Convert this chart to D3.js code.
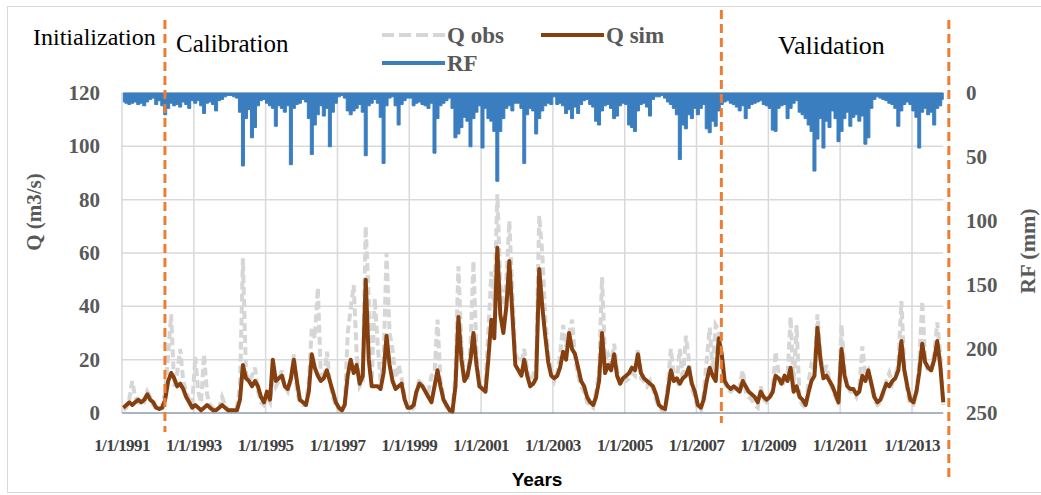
<!DOCTYPE html>
<html>
<head>
<meta charset="utf-8">
<script src="https://cdn.jsdelivr.net/npm/d3@7"></script>
<style>
  body { margin: 0; background: #fff; }
</style>
</head>
<body>
<script>
var w = 1041;
var h = 495;

// monthly values from Jan 1991 to Nov 2013
var startYear = 1991;

var qSim = [
  2,3,4,3,4,5,4,5,7,5,4,2,
  1.5,2,5,12,15,13,10,11,9,6,4,2,
  3,2,1,2,3,2,1,1,2,3,2,1,
  1,1,1,5,18,13,12,10,12,10,6,4,
  8,5,20,12,13,14,10,9,13,20,12,5,
  4,3,8,22,17,14,12,13,16,12,8,4,
  2,1,3,14,20,15,18,11,14,50,20,10,
  10,10,9,15,29,18,12,9,10,11,5,2,
  2,3,8,11,10,8,6,4,10,16,10,5,
  3,1,0.5,10,36,20,12,14,20,30,18,10,
  9,8,20,35,28,62,37,30,40,57,37,18,
  16,14,20,14,10,11,13,54,40,29,19,14,
  13,14,17,23,20,30,24,22,17,12,10,6,
  4,3,6,12,30,15,18,16,22,14,11,13,
  14,15,17,16,22,15,13,12,11,10,7,3,
  2,1.5,8,16,12,13,11,13,14,17,11,8,
  3,2,5,12,17,14,12,28,22,12,10,9,
  10,9,8,12,10,8,7,6,4,8,6,5,
  6,8,14,13,11,14,12,17,8,10,6,5,
  3,8,12,14,32,20,13,14,12,10,7,4,
  24,14,10,9,9,7,8,14,12,16,11,6,
  4,5,8,11,10,12,13,16,27,16,10,5,
  4,8,15,26,19,17,16,20,27,18,4
];

var qObs = [
  1,2,5,12,6,4,3,4,8,6,3,2,
  1,3,8,22,37,10,15,24,12,8,5,3,
  21,8,4,22,7,3,2,1,2,6,3,1,
  1,1,2,10,58,15,12,14,17,8,4,3,
  6,4,15,10,12,16,10,8,12,22,8,4,
  3,3,12,32,28,47,15,12,23,12,6,3,
  1,1,2,30,39,48,22,10,12,70,43,12,
  43,25,12,20,60,30,24,13,18,13,6,2,
  1,2,8,13,10,9,8,14,15,35,12,6,
  2,1,1,15,55,25,14,12,25,57,22,10,
  10,12,30,53,40,82,48,40,50,72,45,22,
  20,19,24,16,12,14,18,74,60,36,22,16,
  12,15,22,33,25,30,35,20,14,10,8,4,
  3,2,8,16,51,20,22,18,26,16,12,14,
  12,13,15,14,24,13,12,10,12,9,5,2,
  1,1,10,24,14,12,24,12,29,20,9,6,
  1,1,7,20,32,16,33,31,20,11,9,8,
  9,8,10,16,8,6,5,3,2,10,5,4,
  5,9,23,15,10,12,14,36,10,33,5,3,
  2,12,18,16,37,22,14,18,12,9,6,3,
  33,16,10,8,8,6,9,25,14,16,10,5,
  3,4,7,12,15,11,14,18,42,18,8,3,
  3,8,18,42,20,15,17,22,34,22,3
];

var rf = [
  7,8,9,8,7,9,8,10,7,5,4,9,
  6,10,17,12,8,10,9,11,7,9,12,6,
  8,6,10,16,8,7,9,14,6,5,3,2,
  2,3,4,15,57,20,13,35,27,10,6,5,
  8,10,12,26,10,12,15,10,56,12,9,8,
  5,7,20,48,25,17,10,18,12,42,15,8,
  3,2,4,14,17,14,12,9,15,49,10,8,
  5,8,19,55,10,4,3,10,25,9,6,4,
  4,10,8,7,9,10,12,8,47,20,10,8,
  6,4,12,35,32,27,19,22,42,20,15,10,
  43,12,20,22,30,69,30,20,12,10,14,8,
  8,12,55,17,12,14,32,20,14,10,8,9,
  3,9,8,10,16,13,20,11,16,9,6,5,
  9,11,22,25,14,10,9,12,20,18,10,8,
  9,25,27,30,14,9,8,11,18,5,3,3,
  2,4,7,9,12,17,52,25,28,17,20,12,
  17,12,9,28,31,22,26,14,9,7,6,8,
  9,11,14,10,20,12,9,8,7,6,9,10,
  12,29,30,12,10,9,20,12,8,6,15,17,
  20,25,30,61,36,20,43,22,27,14,20,38,
  30,20,15,26,19,17,22,18,40,35,12,5,
  3,4,5,6,8,9,12,26,14,9,7,9,
  14,19,43,15,12,17,15,25,12,10,5
];

var xTickYears = [1991,1993,1995,1997,1999,2001,2003,2005,2007,2009,2011,2013];
var qTicks = [0,20,40,60,80,100,120];
var rfTicks = [0,50,100,150,200,250];
// period boundaries (year, month index)
var periodBreaks = [[1992,1], [2007,7], [2013,11]];

var serif = "'Liberation Serif','Times New Roman',serif";
var svg;

drawChart();
function drawChart(){
    svg = d3.select("body")
        .append("svg")
        .attr("width", w)
        .attr("height", h);

    svg.append("rect")
        .attr("x", 7.5)
        .attr("y", 6.5)
        .attr("width", w)
        .attr("height", 486)
        .attr("fill", "#fff")
        .attr("stroke", "#d9d9d9");

    var x = d3.scaleTime()
        .domain([new Date(1991,0,1), new Date(2013,0,1)])
        .range([122, 912]);
    var yQ = d3.scaleLinear().domain([0,120]).range([413, 93]);
    var yRF = d3.scaleLinear().domain([0,250]).range([93, 413]);

    function monthDate(i){ return new Date(startYear, i, 15); }
    var xEnd = x(monthDate(qSim.length - 1));

    //---grid-----
    svg.append("g").selectAll("line")
        .data(qTicks.slice(1))
        .enter().append("line")
        .attr("x1", 122).attr("x2", xEnd)
        .attr("y1", function(d){ return yQ(d); })
        .attr("y2", function(d){ return yQ(d); })
        .attr("stroke", "#d9d9d9")
        .attr("stroke-width", 1.5);

    svg.append("g").selectAll("line")
        .data(xTickYears)
        .enter().append("line")
        .attr("x1", function(d){ return x(new Date(d,0,1)); })
        .attr("x2", function(d){ return x(new Date(d,0,1)); })
        .attr("y1", yQ(120)).attr("y2", yQ(0))
        .attr("stroke", "#d9d9d9")
        .attr("stroke-width", 1.5);

    //---series-----
    var qLine = d3.line()
        .x(function(d,i){ return x(monthDate(i)); })
        .y(function(d){ return yQ(d); });

    svg.append("path")
        .datum(qObs)
        .attr("d", qLine)
        .attr("fill", "none")
        .attr("stroke", "#d6d6d6")
        .attr("stroke-width", 4)
        .attr("stroke-dasharray", "8,4");

    svg.append("path")
        .datum(qSim)
        .attr("d", qLine)
        .attr("fill", "none")
        .attr("stroke", "#86400f")
        .attr("stroke-width", 4)
        .attr("stroke-linejoin", "round");

    svg.append("line")
        .attr("x1", 122).attr("x2", xEnd)
        .attr("y1", yQ(0)).attr("y2", yQ(0))
        .attr("stroke", "#5a6a84")
        .attr("stroke-width", 1.2);

    var rfArea = d3.area()
        .curve(d3.curveStep)
        .x(function(d,i){ return x(monthDate(i)); })
        .y0(yRF(0))
        .y1(function(d){ return yRF(d); });

    svg.append("path")
        .datum(rf)
        .attr("d", rfArea)
        .attr("fill", "#3a7ebf")
        .attr("stroke", "#3a7ebf")
        .attr("stroke-width", 1);

    //---axes-----
    svg.append("g").selectAll("text")
        .data(qTicks)
        .enter().append("text")
        .text(function(d){ return d; })
        .attr("x", 100)
        .attr("y", function(d){ return yQ(d) + 7; })
        .attr("text-anchor", "end")
        .attr("font-size", 21)
        .attr("font-weight", "bold")
        .attr("font-family", serif)
        .attr("fill", "#595959");

    svg.append("g").selectAll("text")
        .data(rfTicks)
        .enter().append("text")
        .text(function(d){ return d; })
        .attr("x", 966)
        .attr("y", function(d){ return yRF(d) + 7; })
        .attr("font-size", 21)
        .attr("font-weight", "bold")
        .attr("font-family", serif)
        .attr("fill", "#595959");

    svg.append("g").selectAll("text")
        .data(xTickYears)
        .enter().append("text")
        .text(function(d){ return "1/1/" + d; })
        .attr("x", function(d){ return x(new Date(d,0,1)); })
        .attr("y", 451)
        .attr("text-anchor", "middle")
        .attr("font-size", 17)
        .attr("letter-spacing", -0.6)
        .attr("font-weight", "bold")
        .attr("font-family", serif)
        .attr("fill", "#404040");

    svg.append("text")
        .text("Q (m3/s)")
        .attr("transform", "translate(34,212) rotate(-90)")
        .attr("text-anchor", "middle")
        .attr("dominant-baseline", "central")
        .attr("font-size", 21)
        .attr("font-weight", "bold")
        .attr("font-family", serif)
        .attr("fill", "#595959");

    svg.append("text")
        .text("RF (mm)")
        .attr("transform", "translate(1027,251) rotate(-90)")
        .attr("text-anchor", "middle")
        .attr("dominant-baseline", "central")
        .attr("font-size", 22)
        .attr("font-weight", "bold")
        .attr("font-family", serif)
        .attr("fill", "#595959");

    svg.append("text")
        .text("Years")
        .attr("x", 537)
        .attr("y", 486)
        .attr("text-anchor", "middle")
        .attr("font-size", 19)
        .attr("font-weight", "bold")
        .attr("font-family", "'Liberation Sans Narrow','Liberation Sans',sans-serif")
        .attr("fill", "#000");

    //---period lines-----
    var breakTops = [20, 10, 20];
    var breakBottoms = [432, 423, 480];
    svg.append("g").selectAll("line")
        .data(periodBreaks)
        .enter().append("line")
        .attr("x1", function(d){ return x(new Date(d[0], d[1], 1)) + 4; })
        .attr("x2", function(d){ return x(new Date(d[0], d[1], 1)) + 4; })
        .attr("y1", function(d,i){ return breakTops[i]; })
        .attr("y2", function(d,i){ return breakBottoms[i]; })
        .attr("stroke", "#ed7d31")
        .attr("stroke-width", 3)
        .attr("stroke-dasharray", "9,5");

    svg.append("text")
        .text("Initialization")
        .attr("x", 33).attr("y", 45)
        .attr("font-size", 24)
        .attr("font-family", serif)
        .attr("fill", "#000");

    svg.append("text")
        .text("Calibration")
        .attr("x", 176).attr("y", 52)
        .attr("font-size", 25)
        .attr("font-family", serif)
        .attr("fill", "#000");

    svg.append("text")
        .text("Validation")
        .attr("x", 778).attr("y", 54)
        .attr("font-size", 26)
        .attr("font-family", serif)
        .attr("fill", "#000");

    //---legend-----
    var legend = [
        {name: "Q obs", x: 382, y: 35, color: "#d6d6d6", dash: "12,5"},
        {name: "Q sim", x: 541, y: 35, color: "#86400f", dash: null},
        {name: "RF", x: 382, y: 63, color: "#3a7ebf", dash: null}
    ];
    var lg = svg.append("g").selectAll("g")
        .data(legend)
        .enter().append("g");
    lg.append("line")
        .attr("x1", function(d){ return d.x; })
        .attr("x2", function(d){ return d.x + 63; })
        .attr("y1", function(d){ return d.y; })
        .attr("y2", function(d){ return d.y; })
        .attr("stroke", function(d){ return d.color; })
        .attr("stroke-width", 4)
        .attr("stroke-dasharray", function(d){ return d.dash; });
    lg.append("text")
        .text(function(d){ return d.name; })
        .attr("x", function(d){ return d.x + 65; })
        .attr("y", function(d){ return d.y + 8; })
        .attr("font-size", 23)
        .attr("font-weight", "bold")
        .attr("font-family", serif)
        .attr("fill", "#595959");
}
</script>
</body>
</html>
